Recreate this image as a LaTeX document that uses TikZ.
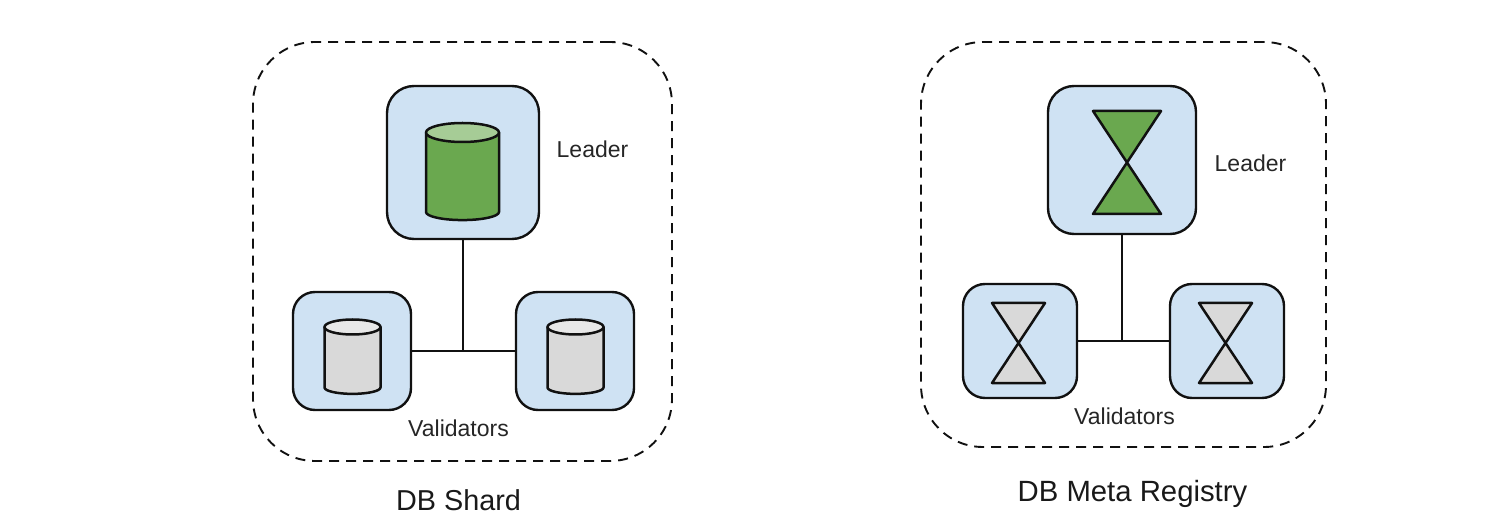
\documentclass[tikz,border=0pt]{standalone}
\usepackage{fontspec}
\setmainfont{Liberation Sans}
\definecolor{boxblue}{HTML}{CFE2F3}
\definecolor{dbgreen}{HTML}{6AA84F}
\definecolor{dbgreenlt}{HTML}{A6CC96}
\definecolor{dbgrey}{HTML}{D9D9D9}
\definecolor{dbgreylt}{HTML}{E8E8E8}
\definecolor{inkc}{HTML}{111111}
\tikzset{
  groupbox/.style={draw=inkc,line width=1.9pt,dash pattern=on 10pt off 7pt,rounded corners=62pt,minimum width=#1,minimum height=#1,outer sep=0pt,inner sep=0pt},
  hostbig/.style n args={3}{draw=inkc,fill=boxblue,line width=2.4pt,rounded corners=#3,minimum width=#1,minimum height=#2,outer sep=0pt,inner sep=0pt},
  link/.style={draw=inkc,line width=2.6pt},
  shapeedge/.style={draw=inkc,line width=2.5pt,line join=round},
  small/.style={font=\fontsize{23pt}{26pt}\selectfont,text=black!85,inner sep=0pt},
  big/.style={font=\fontsize{#1}{33pt}\selectfont,text=black!90,inner sep=0pt},
  pics/dbcyl/.style n args={5}{code={
    % #1 half width, #2 half height of the body, #3 ellipse radius, #4 body colour, #5 lid colour
    \path[shapeedge,fill=#4] (-#1,-#2) -- (-#1,#2) arc[start angle=180,end angle=0,x radius=#1,y radius={0.85*#3}] -- (#1,-#2) -- cycle;
    \path[shapeedge,fill=#5] (0,-#2) ellipse[x radius=#1,y radius=#3];
  }},
  pics/hourglass/.style n args={3}{code={
    \path[shapeedge,fill=#3] (-#1,-#2) -- (#1,-#2) -- (-#1,#2) -- (#1,#2) -- cycle;
  }}
}
\begin{document}
\begin{tikzpicture}[x=1pt,y=-1pt]
\useasboundingbox (0,0) rectangle (1496,526);
% left group
\node[groupbox=419pt] (shardgroup) at (462.5,251.5) {};
\node[hostbig={152pt}{153pt}{27pt}] (shardleader) at (463,162.5) {};
\node[hostbig={118pt}{118pt}{22pt}] (shardvalL) at (352,351) {};
\node[hostbig={118pt}{118pt}{22pt}] (shardvalR) at (575,351) {};
\coordinate (shardjoin) at (shardleader.south |- shardvalL.east);
\draw[link] (shardleader.south) -- (shardjoin);
\draw[link] (shardvalL.east) -- (shardvalR.west);
\pic at (462.5,172.25) {dbcyl={36.5}{39.75}{9.5}{dbgreen}{dbgreenlt}};
\pic at (352.5,357.25) {dbcyl={28}{30.25}{7.5}{dbgrey}{dbgreylt}};
\pic at (575.5,357.25) {dbcyl={28}{30.25}{7.5}{dbgrey}{dbgreylt}};
\node[small] (shardleadertext) at (592.5,149.5) {Leader};
\node[small] (shardvaltext) at (458.5,428.5) {Validators};
\node[big=28.8pt] (shardtitle) at (458.5,500.5) {DB Shard};
% right group
\node[groupbox=405pt] (metagroup) at (1123.5,244.5) {};
\node[hostbig={148pt}{148pt}{26pt}] (metaleader) at (1122,160) {};
\node[hostbig={114pt}{114pt}{22pt}] (metavalL) at (1020,341) {};
\node[hostbig={114pt}{114pt}{22pt}] (metavalR) at (1227,341) {};
\coordinate (metajoin) at (metaleader.south |- metavalL.east);
\draw[link] (metaleader.south) -- (metajoin);
\draw[link] (metavalL.east) -- (metavalR.west);
\pic at (1127,162.5) {hourglass={34}{51.5}{dbgreen}};
\pic at (1018.5,343) {hourglass={26.5}{40}{dbgrey}};
\pic at (1225.5,343) {hourglass={26.5}{40}{dbgrey}};
\node[small] (metaleadertext) at (1250.5,163.5) {Leader};
\node[small] (metavaltext) at (1124.5,416.5) {Validators};
\node[big=29.3pt] (metatitle) at (1132.5,494) {DB Meta Registry};
\end{tikzpicture}
\end{document}
